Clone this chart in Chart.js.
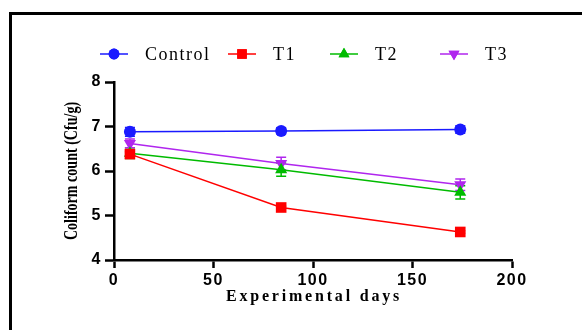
<!DOCTYPE html>
<html>
<head>
<meta charset="utf-8">
<script src="https://cdn.jsdelivr.net/npm/chart.js@4.4.1/dist/chart.umd.min.js"></script>
<style>
  body { margin: 0; background: #fff; overflow: hidden; }
  #wrap { position: relative; width: 582px; height: 330px; }
  #frame { position: absolute; left: 9px; top: 12px; width: 700px; height: 400px;
           border-left: 3px solid #000; border-top: 3px solid #000; }
  canvas { position: absolute; left: 0; top: 0; }
</style>
</head>
<body>
<div id="wrap">
  <div id="frame"></div>
  <canvas id="myChart" width="582" height="330"></canvas>
</div>
<script>
// sampling days (x) and mean values
var days = [8, 84, 174];
var seriesNames = ['Control', 'T1', 'T2', 'T3'];
var control = [6.88, 6.90, 6.93];
var t1 = [6.38, 5.18, 4.63];
var t2 = [6.40, 6.03, 5.52];
var t3 = [6.62, 6.17, 5.69];
// error bar half-heights (SD)
var controlErr = [0.10, 0.07, 0.08];
var t1Err = [0.05, 0.03, 0.03];
var t2Err = [0.12, 0.15, 0.15];
var t3Err = [0.10, 0.14, 0.13];
var xTicks = [0, 50, 100, 150, 200];
var yTicks = [4, 5, 6, 7, 8];

var colors = ['#1a1aff', '#ff0000', '#00bb00', '#b026ee'];
var styles = ['circle', 'rect', 'triangle', 'triangle'];
var rotations = [0, 0, 0, 180];
var radii = [6, 7.5, 7, 7];
var values = [control, t1, t2, t3];
var errors = [controlErr, t1Err, t2Err, t3Err];

function toPoints(vals) {
    return days.map(function (d, i) { return { x: d, y: vals[i] }; });
}

var datasets = values.map(function (vals, k) {
    return {
        label: seriesNames[k],
        data: toPoints(vals),
        errors: errors[k],
        borderColor: colors[k],
        backgroundColor: colors[k],
        borderWidth: 1.5,
        pointStyle: styles[k],
        pointRotation: rotations[k],
        pointRadius: radii[k],
        pointBorderWidth: 0,
        tension: 0,
        fill: false
    };
});

// draws the error bars through the chart scales
var errorBars = {
    id: 'errorBars',
    beforeDatasetsDraw: function (chart) {
        var ctx = chart.ctx, xs = chart.scales.x, ys = chart.scales.y;
        ctx.save();
        chart.data.datasets.forEach(function (ds) {
            ctx.strokeStyle = ds.borderColor;
            ctx.lineWidth = 1.5;
            ds.data.forEach(function (p, i) {
                var e = ds.errors[i];
                var px = xs.getPixelForValue(p.x);
                var top = ys.getPixelForValue(p.y + e);
                var bot = ys.getPixelForValue(p.y - e);
                ctx.beginPath();
                ctx.moveTo(px, top); ctx.lineTo(px, bot);
                ctx.moveTo(px - 5, top); ctx.lineTo(px + 5, top);
                ctx.moveTo(px - 5, bot); ctx.lineTo(px + 5, bot);
                ctx.stroke();
            });
        });
        ctx.restore();
    }
};

// legend row with line + marker, and both axis titles
var legendX = [100, 228, 330, 440];
var extras = {
    id: 'extras',
    beforeDraw: function (chart) {
        chart.ctx.letterSpacing = '1.5px'; // wide tick digits
    },
    afterDraw: function (chart) {
        var ctx = chart.ctx;
        ctx.save();
        var y = 54;
        chart.data.datasets.forEach(function (ds, k) {
            var x0 = legendX[k];
            ctx.strokeStyle = ds.borderColor;
            ctx.lineWidth = 1.5;
            ctx.beginPath();
            ctx.moveTo(x0, y); ctx.lineTo(x0 + 28, y);
            ctx.stroke();
            ctx.fillStyle = ds.backgroundColor;
            Chart.helpers.drawPoint(ctx, {
                pointStyle: ds.pointStyle, rotation: ds.pointRotation,
                radius: ds.pointRadius * 0.9, borderWidth: 0
            }, x0 + 14, y);
            ctx.fill();
            ctx.letterSpacing = '1.5px';
            ctx.fillStyle = '#000';
            ctx.font = '18px "Liberation Serif"';
            ctx.textBaseline = 'middle';
            ctx.textAlign = 'left';
            ctx.fillText(ds.label, x0 + 45, y + 1);
        });
        ctx.letterSpacing = '2.8px';
        ctx.font = 'bold 16px "Liberation Serif"';
        ctx.textAlign = 'center';
        ctx.fillText('Experimental days', 314, 297);
        // y title, narrow letters like the original
        ctx.letterSpacing = '0px';
        ctx.translate(72, 171);
        ctx.rotate(-Math.PI / 2);
        ctx.scale(0.74, 1);
        ctx.font = 'bold 19px "Liberation Serif"';
        ctx.fillText('Coliform count (Cfu/g)', 0, 0);
        ctx.restore();
        ctx.letterSpacing = '0px';
    }
};

var ctx = document.getElementById('myChart').getContext('2d');
var chart = new Chart(ctx, {
    type: 'line',
    data: { datasets: datasets },
    options: {
        responsive: false,
        animation: false,
        layout: { padding: { left: 60, top: 82, right: 70, bottom: 0 } },
        plugins: { legend: { display: false }, tooltip: { enabled: false } },
        scales: {
            x: {
                type: 'linear', min: 0, max: 200,
                afterBuildTicks: function (s) { s.ticks = xTicks.map(function (v) { return { value: v }; }); },
                afterFit: function (s) { s.height = 70; },
                border: { color: '#000', width: 2.5 },
                grid: { drawOnChartArea: false, color: '#000', tickLength: 8, tickWidth: 2.5 },
                ticks: { color: '#000', padding: 3, font: { family: 'Liberation Sans', weight: 'bold', size: 16 } }
            },
            y: {
                min: 4, max: 8,
                afterBuildTicks: function (s) { s.ticks = yTicks.map(function (v) { return { value: v }; }); },
                afterFit: function (s) { s.width = 54; },
                border: { color: '#000', width: 2.5 },
                grid: { drawOnChartArea: false, color: '#000', tickLength: 9, tickWidth: 2.5 },
                ticks: { color: '#000', padding: 3, font: { family: 'Liberation Sans', weight: 'bold', size: 16 } }
            }
        }
    },
    plugins: [errorBars, extras]
});
</script>
</body>
</html>
